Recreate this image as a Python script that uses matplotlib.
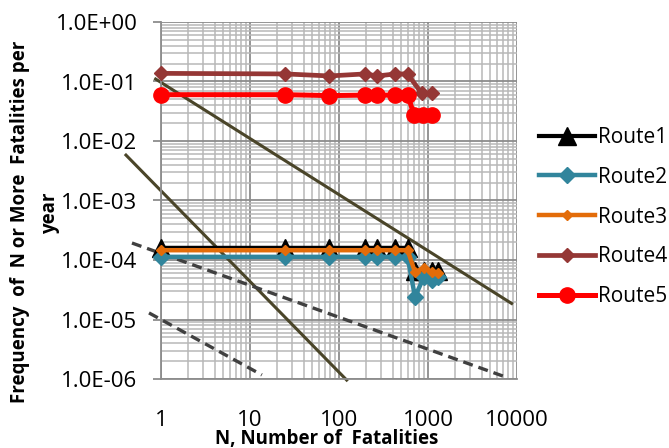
import numpy as np
import matplotlib
matplotlib.use('Agg')
import matplotlib.pyplot as plt
from matplotlib.ticker import LogLocator, FuncFormatter, NullFormatter

plt.rcParams['font.family'] = ['Open Sans', 'DejaVu Sans']

# N values (fatalities)
n_low = [1, 25, 78, 195, 270, 430, 590, 714, 900, 1110, 1300]
route1 = [1.6e-4, 1.6e-4, 1.6e-4, 1.6e-4, 1.6e-4, 1.6e-4, 1.6e-4, 6.5e-5, 6.5e-5, 6.5e-5, 6.5e-5]
route2 = [1.13e-4, 1.13e-4, 1.13e-4, 1.13e-4, 1.13e-4, 1.13e-4, 1.13e-4, 2.4e-5, 5.2e-5, 4.7e-5, 5.2e-5]
route3 = [1.46e-4, 1.46e-4, 1.46e-4, 1.46e-4, 1.46e-4, 1.46e-4, 1.46e-4, 6.3e-5, 7.3e-5, 6.3e-5, 6.0e-5]

n_r4 = [1, 25, 78, 195, 270, 430, 590, 850, 1110]
route4 = [0.137, 0.134, 0.124, 0.134, 0.124, 0.134, 0.134, 0.063, 0.063]
n_r5 = [1, 25, 78, 195, 270, 430, 590, 700, 870, 1110]
route5 = [0.060, 0.060, 0.058, 0.059, 0.059, 0.059, 0.059, 0.0273, 0.0273, 0.0273]

# criterion lines (start, end)
crit_solid = [([0.87, 8700], [0.11, 1.86e-5]),
              ([0.404, 122], [5.8e-3, 9.6e-7])]
crit_dash = [([0.472, 6960], [1.93e-4, 1.12e-6]),
             ([0.733, 13.6], [1.29e-5, 1.17e-6])]

fig = plt.figure(figsize=(6.69, 4.48), dpi=100)
ax = fig.add_axes([161 / 669, 1 - 379 / 448, (517 - 161) / 669, (379 - 22) / 448])
ax.set_xscale('log')
ax.set_yscale('log')
ax.set_xlim(1, 10000)
ax.set_ylim(1e-6, 1)

for xs, ys in crit_solid:
    ax.plot(xs, ys, color='#4a4529', lw=2.2, clip_on=False, zorder=2)
for xs, ys in crit_dash:
    ax.plot(xs, ys, color='#404040', lw=2.4, dashes=(3, 1.8), clip_on=False, zorder=2)

ax.plot(n_low, route1, color='black', lw=3.0, marker='^', ms=13, label='Route1', clip_on=False, zorder=3)
ax.plot(n_low, route2, color='#31859c', lw=3.2, marker='D', ms=8, label='Route2', clip_on=False, zorder=4)
ax.plot(n_low, route3, color='#e36c09', lw=3.2, marker='D', ms=5, label='Route3', clip_on=False, zorder=5)
ax.plot(n_r4, route4, color='#953735', lw=3.4, marker='D', ms=7.5, label='Route4', clip_on=False, zorder=6)
ax.plot(n_r5, route5, color='#ff0000', lw=3.6, marker='o', ms=11, label='Route5', clip_on=False, zorder=7)

ax.xaxis.set_major_locator(LogLocator(base=10, numticks=10))
ax.xaxis.set_minor_locator(LogLocator(base=10, subs=np.arange(2, 10), numticks=20))
ax.yaxis.set_major_locator(LogLocator(base=10, numticks=10))
ax.yaxis.set_minor_locator(LogLocator(base=10, subs=np.arange(2, 10), numticks=20))
ax.xaxis.set_major_formatter(FuncFormatter(lambda v, p: '%d' % round(v)))
ax.yaxis.set_major_formatter(FuncFormatter(lambda v, p: '%.1E' % v))
ax.xaxis.set_minor_formatter(NullFormatter())
ax.yaxis.set_minor_formatter(NullFormatter())

ax.grid(which='major', color='#8c8c8c', lw=1.3, zorder=0)
ax.grid(which='minor', color='#b8b8b8', lw=1.1, zorder=0)
ax.set_axisbelow(True)
for s in ['top', 'right']:
    ax.spines[s].set_visible(False)
for s in ['left', 'bottom']:
    ax.spines[s].set_color('#8c8c8c')
    ax.spines[s].set_linewidth(1.3)

ax.tick_params(axis='y', which='major', length=6, width=1.3, color='#8c8c8c', pad=11,
               labelsize=16, labelcolor='black')
ax.tick_params(axis='y', which='minor', length=0)
ax.tick_params(axis='x', which='both', length=0, pad=22, labelsize=16)

fig.text(20 / 669, 1 - 222 / 448, 'Frequency  of  N or More  Fatalities per', rotation=90,
         ha='center', va='center', fontsize=13.5, fontweight='bold')
fig.text(50 / 669, 1 - 213 / 448, 'year', rotation=90,
         ha='center', va='center', fontsize=13.5, fontweight='bold')
fig.text(327 / 669, 1 - 444 / 448, 'N, Number of  Fatalities', ha='center', va='baseline',
         fontsize=13.5, fontweight='bold')

ax.legend(loc='center left', bbox_to_anchor=(539 / 669, 1 - 217 / 448), bbox_transform=fig.transFigure,
          frameon=False, fontsize=15, handlelength=2.7, handletextpad=0.15, labelspacing=0.9,
          borderaxespad=0, borderpad=0)

fig.savefig('out.png', dpi=100)
